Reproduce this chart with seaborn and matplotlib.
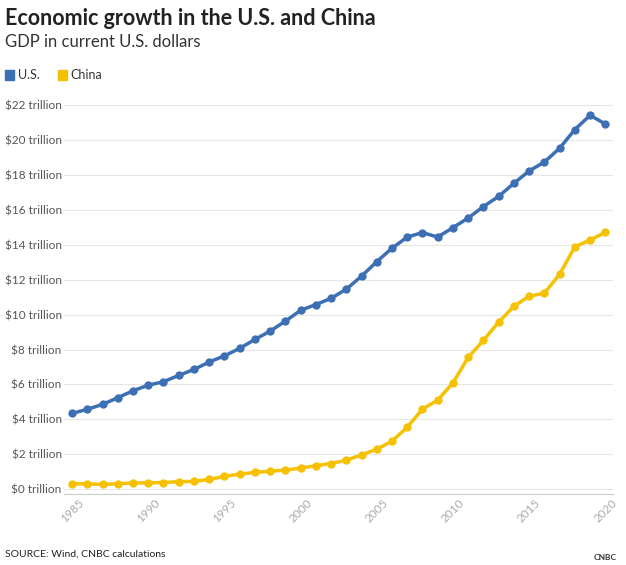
import matplotlib
matplotlib.use("Agg")
import matplotlib.pyplot as plt
import seaborn as sns
import pandas as pd

years = list(range(1985, 2021))
us = [4.34, 4.58, 4.86, 5.24, 5.64, 5.96, 6.16, 6.52, 6.86, 7.29, 7.64, 8.07, 8.58, 9.06, 9.63,
      10.25, 10.58, 10.94, 11.46, 12.21, 13.04, 13.81, 14.45, 14.71, 14.45, 14.99, 15.54, 16.20,
      16.78, 17.53, 18.24, 18.75, 19.54, 20.61, 21.43, 20.94]
china = [0.31, 0.30, 0.27, 0.31, 0.35, 0.36, 0.38, 0.43, 0.44, 0.56, 0.73, 0.86, 0.96, 1.03, 1.09,
         1.21, 1.34, 1.47, 1.66, 1.96, 2.29, 2.75, 3.55, 4.59, 5.10, 6.09, 7.55, 8.53, 9.57, 10.48,
         11.06, 11.23, 12.31, 13.89, 14.28, 14.72]
series = ["U.S.", "China"]
colors = ["#3d6fb4", "#f5c100"]
yticks = list(range(0, 23, 2))
xticks = list(range(1985, 2021, 5))

df = pd.DataFrame({"year": years * 2, "gdp": us + china,
                   "country": ["U.S."] * len(years) + ["China"] * len(years)})

sns.set_style("white")
plt.rcParams['font.family'] = ['Lato', 'DejaVu Sans']
fig = plt.figure(figsize=(6.26, 5.65), dpi=100)
ax = fig.add_axes([0.103, 0.125, 0.876, 0.707])
sns.lineplot(data=df, x="year", y="gdp", hue="country", hue_order=series, palette=colors,
             marker="o", markersize=6, markeredgewidth=0, linewidth=2.5, ax=ax, legend=False)
ax.set_xlim(1984.5, 2020.5)
ax.set_ylim(-0.3, 22.6)
ax.set_yticks(yticks)
ax.set_yticklabels([f"${v} trillion" for v in yticks], fontsize=8.5, color="#555555")
ax.set_xticks(xticks)
ax.set_xticklabels([str(v) for v in xticks], rotation=45, fontsize=8.5, color="#aaaaaa")
ax.grid(axis="y", color="#e6e6e6", linewidth=0.8)
ax.set_axisbelow(True)
for s in ["top", "right", "left"]:
    ax.spines[s].set_visible(False)
ax.spines["bottom"].set_color("#cccccc")
ax.tick_params(axis="both", length=0, pad=2)
ax.set_xlabel("")
ax.set_ylabel("")

fig.text(0.008, 0.985, "Economic growth in the U.S. and China", fontsize=15.5, fontweight="bold",
         color="#222222", va="top")
fig.text(0.008, 0.94, "GDP in current U.S. dollars", fontsize=12, color="#333333", va="top")
x = 0.008
for name, c in zip(series, colors):
    fig.patches.append(plt.Rectangle((x, 0.858), 0.014, 0.018, transform=fig.transFigure,
                                     color=c, figure=fig))
    fig.text(x + 0.02, 0.867, name, fontsize=9, color="#333333", va="center")
    x += 0.085
fig.text(0.008, 0.015, "SOURCE: Wind, CNBC calculations", fontsize=7.5, color="#222222")
fig.text(0.985, 0.008, "CNBC", fontsize=6, color="#333333", ha="right", fontweight="bold")
fig.savefig("out.png", dpi=100)
